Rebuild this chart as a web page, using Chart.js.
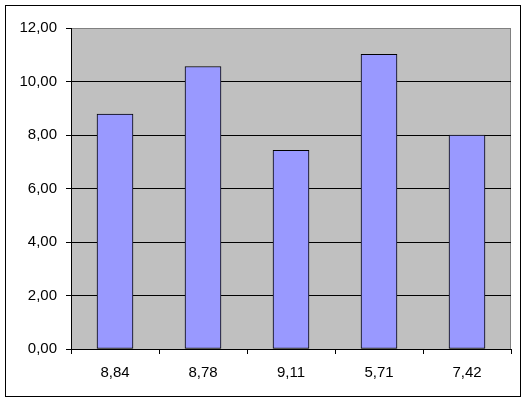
<!DOCTYPE html>
<html>
<head>
<meta charset="utf-8">
<script src="https://cdn.jsdelivr.net/npm/chart.js@4"></script>
<style>
  html, body { margin: 0; padding: 0; background: #fff; }
  #wrap { width: 527px; height: 401px; position: relative; }
</style>
</head>
<body>
<div id="wrap"><canvas id="barChart"></canvas></div>
<script>
// values
const categories = ['8,84', '8,78', '9,11', '5,71', '7,42'];
const barValues = [8.78, 10.56, 7.43, 11.02, 8.00];
const yTicks = [0, 2, 4, 6, 8, 10, 12];

const fmt = v => v.toFixed(2).replace('.', ',');

// grey plot area + outer frame
const framePlugin = {
    id: 'frame',
    beforeDraw(chart) {
        const { ctx, chartArea: a } = chart;
        ctx.save();
        ctx.fillStyle = '#C0C0C0';
        ctx.fillRect(a.left, a.top, a.right - a.left, a.bottom - a.top);
        ctx.strokeStyle = '#808080';
        ctx.lineWidth = 1;
        ctx.strokeRect(a.left + 0.5, a.top + 0.5, a.right - a.left - 1, a.bottom - a.top);
        ctx.strokeStyle = '#000';
        ctx.strokeRect(5.5, 5.5, 515, 391);
        ctx.restore();
    }
};

const ctx = document.getElementById('barChart').getContext('2d');
const chart = new Chart(ctx, {
    type: 'bar',
    data: {
        labels: categories,
        datasets: [{
            data: barValues,
            backgroundColor: '#9999FF',
            borderColor: '#000',
            borderWidth: 1,
            borderSkipped: false,
            barThickness: 36
        }]
    },
    options: {
        responsive: true,
        maintainAspectRatio: false,
        animation: false,
        layout: { padding: { left: 0, top: 28, right: 16, bottom: 0 } },
        plugins: { legend: { display: false }, tooltip: { enabled: false } },
        scales: {
            x: {
                afterFit: s => { s.height = 52; },
                grid: { offset: true, drawOnChartArea: false, tickLength: 5, tickColor: '#000' },
                border: { color: '#000', width: 1 },
                ticks: { color: '#000', padding: 10, font: { family: 'Liberation Sans, Arial', size: 15 } }
            },
            y: {
                min: 0,
                max: 12,
                afterFit: s => { s.width = 71; },
                afterBuildTicks: s => { s.ticks = yTicks.map(v => ({ value: v })); },
                grid: {
                    color: c => (c.tick && c.tick.value === 12) ? '#808080' : '#000',
                    tickColor: '#000',
                    tickLength: 5
                },
                border: { color: '#000', width: 1 },
                ticks: {
                    color: '#000',
                    padding: 9,
                    font: { family: 'Liberation Sans, Arial', size: 15 },
                    callback: v => fmt(v)
                }
            }
        }
    },
    plugins: [framePlugin]
});
</script>
</body>
</html>
